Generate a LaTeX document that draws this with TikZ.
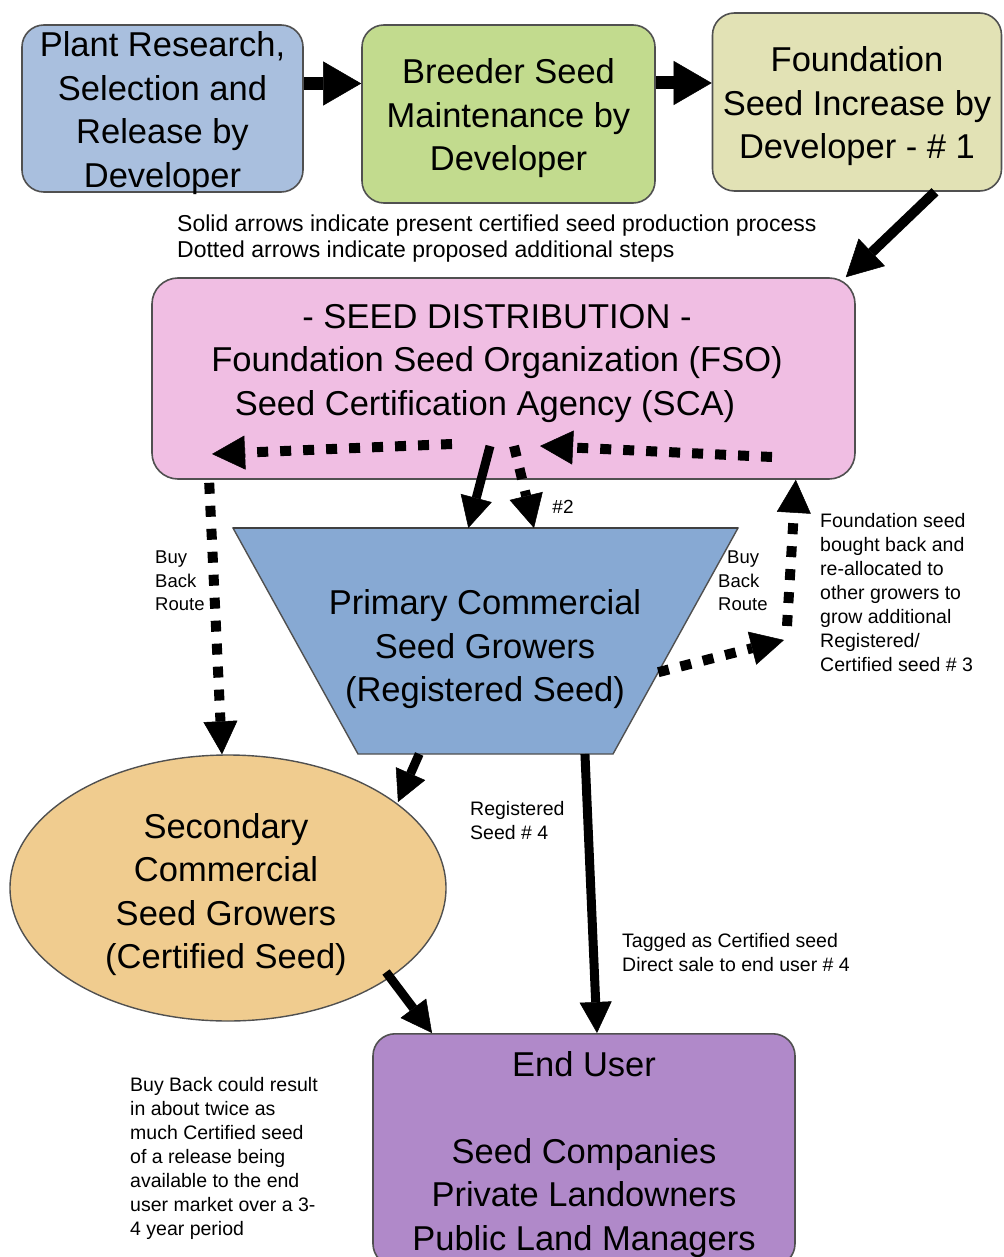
\documentclass[tikz,border=0pt]{standalone}
\usepackage{fontspec}
\setmainfont{Liberation Sans}
\usetikzlibrary{arrows.meta,shapes.geometric,calc}
\definecolor{cA}{HTML}{A9BFDE}
\definecolor{cB}{HTML}{C2DB8E}
\definecolor{cC}{HTML}{E2E2B5}
\definecolor{cPink}{HTML}{F0BEE3}
\definecolor{cTrap}{HTML}{87A9D3}
\definecolor{cEll}{HTML}{F0CC8F}
\definecolor{cEU}{HTML}{B089C9}
\definecolor{bord}{HTML}{505050}
\newcommand\bigtxt{\fontsize{34.5}{43.5}\selectfont}
\newcommand\smtxt{\fontsize{19.5}{24}\selectfont}
\begin{document}
\begin{tikzpicture}[x=1pt,y=-1pt,
  box/.style={draw=bord, line width=1.6pt, rounded corners=22pt, inner sep=0pt},
  bigtext/.style={font=\bigtxt, align=center, inner sep=0pt, yshift=-4.5pt},
  note/.style={font=\smtxt, align=left, anchor=north west, inner sep=0pt},
  toparrow/.style={line width=13pt, -{Triangle[length=38pt,width=44pt,line width=0.5pt]}},
  sarrow/.style={line width=9pt, -{Triangle[length=31pt,width=32pt,line width=0.5pt]}},
  darrow/.style={line width=10pt, dash pattern=on 11pt off 12pt, -{Triangle[length=33pt,width=34pt,line width=0.5pt]}}
]
\useasboundingbox (0,0) rectangle (1003,1257);

% top boxes
\node[box, fill=cA, minimum width=281pt, minimum height=167pt] (b1) at (162.5,108.5) {};
\node[bigtext] (b1t) at (b1.center) {Plant Research,\\Selection and\\Release by\\Developer};
\node[box, fill=cB, minimum width=293pt, minimum height=178pt] (b2) at (508.5,114) {};
\node[bigtext] (b2t) at (b2.center) {Breeder Seed\\Maintenance by\\Developer};
\node[box, fill=cC, minimum width=289pt, minimum height=178pt] (b3) at (857,102) {};
\node[bigtext] (b3t) at (b3.center) {Foundation\\Seed Increase by\\Developer - \# 1};

\draw[toparrow] ([yshift=25pt]b1.east) -- ([yshift=25pt]b1.east -| b2.west);
\draw[toparrow] ([yshift=31pt]b2.east) -- ([yshift=31pt]b2.east -| b3.west);

% legend
\node[font=\fontsize{23}{26}\selectfont, align=left, anchor=west, inner sep=0pt] (legend) at (177,239)
  {Solid arrows indicate present certified seed production process\\Dotted arrows indicate proposed additional steps};

% pink box
\node[box, fill=cPink, rounded corners=26pt, minimum width=703pt, minimum height=201pt] (pink) at (503.5,378.5) {};
\node[bigtext] (pinkt) at (497,359)
  {- SEED DISTRIBUTION -\\Foundation Seed Organization (FSO)\\Seed Certification Agency (SCA)\hspace*{24pt}};

\draw[sarrow, line width=10pt, -{Triangle[length=36pt,width=38pt,line width=0.5pt]}]
  ([xshift=78pt]b3.south) -- ([xshift=-10pt]pink.north east);

% trapezoid
\draw[draw=bord, line width=1.4pt, fill=cTrap]
  (233,528) coordinate (tTL) -- (738,528) coordinate (tTR) -- (613,754) coordinate (tBR) -- (358,754) coordinate (tBL) -- cycle;
\draw[draw=bord!80!black, line width=2.2pt] (tTL) -- (tTR);
\node[bigtext] (trap) at (485,645) {Primary Commercial\\Seed Growers\\(Registered Seed)};

% ellipse
\node[ellipse, draw=bord, line width=1.4pt, fill=cEll, minimum width=436pt, minimum height=266pt, inner sep=0pt] (ell) at (228,888) {};
\node[bigtext, yshift=-2pt] (ellt) at (226,888) {Secondary\\Commercial\\Seed Growers\\(Certified Seed)};

% end user
\node[box, fill=cEU, minimum width=422pt, minimum height=232pt, anchor=north] (eu) at (584,1033) {};
\node[bigtext] (eut) at (584,1150) {End User\\[0pt]\mbox{}\\Seed Companies\\Private Landowners\\Public Land Managers};

% dotted arrows in pink box
\coordinate (pl1) at (452,444);
\coordinate (pl2) at (212,454);
\draw[darrow] (pl1) -- (pl2);
\coordinate (pr1) at (772,457);
\coordinate (pr2) at (540,446);
\draw[darrow] (pr1) -- (pr2);

% pink -> trapezoid
\coordinate (ps1) at (490,446);
\draw[sarrow] (ps1) -- ($(tTL)!0.466!(tTR)$);
\coordinate (pd1) at (514,446);
\draw[darrow] (pd1) -- ($(tTL)!0.596!(tTR)$);
\node[font=\fontsize{19}{22}\selectfont, inner sep=0pt] (n2) at (563,507) {\#2};

% left buy back route
\draw[darrow] ([xshift=58pt,yshift=-3pt]pink.south west) -- ([xshift=-6pt]ell.north);
\node[font=\fontsize{18.5}{23.5}\selectfont, align=left, anchor=north west, inner sep=0pt] (bbl) at (155,551) {Buy\\Back\\Route};

% right buy back route
\coordinate (tr1) at ($(tTR)!0.638!(tBR)$);
\coordinate (tr2) at (784,640);
\draw[darrow] (tr1) -- (tr2);
\coordinate (rv1) at (787,626);
\draw[darrow] (rv1) -- ([xshift=-60pt]pink.south east);
\node[font=\fontsize{18.5}{23.5}\selectfont, align=left, anchor=north west, inner sep=0pt] (bbr) at (718,551) {\hspace*{9pt}Buy\\Back\\Route};

\node[note] (fnote) at (820,513) {Foundation seed\\bought back and\\re-allocated to\\other growers to\\grow additional\\Registered/\\Certified seed \# 3};

% trapezoid -> ellipse, trapezoid -> end user
\draw[sarrow] ($(tBL)!0.24!(tBR)$) -- (398,802) coordinate (te2);
\draw[sarrow] ($(tBL)!0.89!(tBR)$) -- ([xshift=13pt]eu.north);
\node[note] (regn) at (470,801) {Registered\\Seed \# 4};
\node[note] (tagn) at (622,933) {Tagged as Certified seed\\Direct sale to end user \# 4};

% ellipse -> end user
\coordinate (ee1) at (386,972);
\draw[sarrow] (ee1) -- ([xshift=-152pt]eu.north);

\node[note] (bbn) at (130,1077) {Buy Back could result\\in about twice as\\much Certified seed\\of a release being\\available to the end\\user market over a 3-\\4 year period};
\end{tikzpicture}
\end{document}
